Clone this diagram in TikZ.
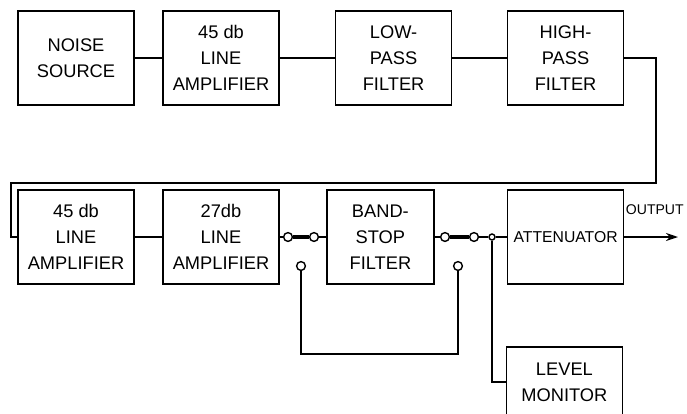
\documentclass[tikz,border=0pt]{standalone}
\usepackage{fontspec}
\setmainfont{Liberation Sans}
\usetikzlibrary{arrows.meta}
\begin{document}
\begin{tikzpicture}[
  blk/.style={draw,line width=1.2pt,minimum width=2.9cm,minimum height=2.35cm,align=center,font=\fontsize{13}{18.5}\selectfont},
  contact/.style={draw,circle,fill=white,line width=1pt,inner sep=0pt,minimum size=0.22cm},
  wire/.style={line width=1.2pt},
  link/.style={line width=2.6pt}]
\useasboundingbox (0,0) rectangle (17.175,-10.325);
\clip (0,0) rectangle (17.175,-10.325);
\node[blk] (ns) at (1.9,-1.45) {NOISE\\SOURCE};
\node[blk] (a1) at (5.525,-1.45) {45 db\\LINE\\AMPLIFIER};
\node[blk] (lp) at (9.84,-1.45) {LOW-\\PASS\\FILTER};
\node[blk] (hp) at (14.14,-1.45) {HIGH-\\PASS\\FILTER};
\node[blk] (a2) at (1.9,-5.925) {45 db\\LINE\\AMPLIFIER};
\node[blk] (a3) at (5.525,-5.925) {27db\\LINE\\AMPLIFIER};
\node[blk,minimum width=2.68cm] (bs) at (9.51,-5.925) {BAND-\\STOP\\FILTER};
\node[blk,inner xsep=1pt,font=\fontsize{11.2}{18.5}\selectfont] (att) at (14.14,-5.925) {ATTENUATOR};
\node[blk,anchor=north,minimum height=1.75cm] (lm) at (14.11,-8.65) {LEVEL\\MONITOR};
\node[font=\fontsize{10}{12}\selectfont,inner sep=0pt,anchor=base west] (out) at ([xshift=0.03cm,yshift=0.57cm]att.east) {OUTPUT};
\coordinate (oend) at (16.95,-5.925);
\node[contact] (s1a) at (7.2,-5.925) {};
\node[contact] (s1b) at (7.85,-5.925) {};
\node[contact] (s1c) at (7.525,-6.65) {};
\node[contact] (s2a) at (11.125,-5.925) {};
\node[contact] (s2b) at (11.85,-5.925) {};
\node[contact] (s2c) at (11.45,-6.65) {};
\node[contact,minimum size=0.15cm] (jn) at (12.3,-5.925) {};
\coordinate (r) at (16.4,-4.575);
\coordinate (l) at (0.275,-4.575);
\coordinate (byp) at (0,-8.85);
\draw[wire] (ns) -- (a1);
\draw[wire] (a1) -- (lp);
\draw[wire] (lp) -- (hp);
\draw[wire] (hp.east) -| (r) -- (l) |- (a2.west);
\draw[wire] (a2) -- (a3);
\draw[wire] (a3) -- (s1a);
\draw[link] (s1a) -- (s1b);
\draw[wire] (s1b) -- (bs);
\draw[wire] (bs) -- (s2a);
\draw[link] (s2a) -- (s2b);
\draw[wire] (s2b) -- (jn);
\draw[wire] (jn) -- (att);
\draw[wire] (s1c) |- (byp -| s2c) -- (s2c);
\draw[wire] (jn) |- (lm.west);
\draw[wire,-{Stealth[length=0.3cm,width=0.2cm]}] (att.east) -- (oend);
\end{tikzpicture}
\end{document}
